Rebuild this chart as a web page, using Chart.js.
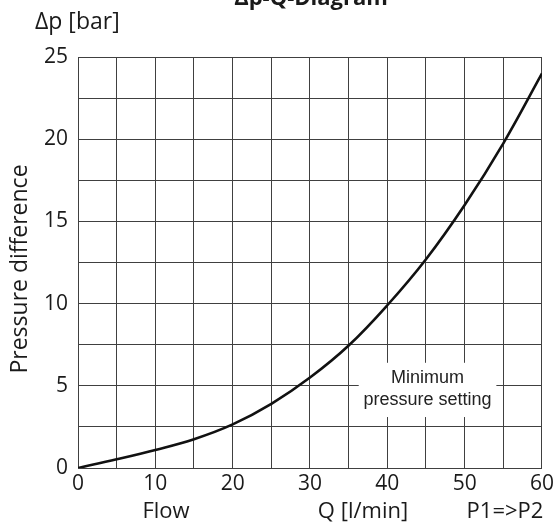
<!DOCTYPE html>
<html>
<head>
<meta charset="utf-8">
<script src="https://cdn.jsdelivr.net/npm/chart.js@4.4.1/dist/chart.umd.min.js"></script>
<style>
  html, body { margin: 0; padding: 0; background: #ffffff; }
  #wrap { position: relative; width: 557px; height: 532px; }
  canvas { display: block; }
</style>
</head>
<body>
<div id="wrap"><canvas id="c" width="557" height="532"></canvas></div>
<script>
// Flow rate Q [l/min] and pressure difference Δp [bar], P1 => P2
const flow = [0, 5, 10, 15, 20, 25, 30, 35, 40, 45, 50, 55, 60];
const pressure = [0, 0.53, 1.1, 1.75, 2.65, 3.9, 5.5, 7.45, 9.9, 12.7, 16.0, 19.75, 24.0];

// Axis ranges and tick labels
const xTickLabels = [0, 10, 20, 30, 40, 50, 60];
const yTickLabels = [0, 5, 10, 15, 20, 25];

// Note box inside the plot, in data units
const noteLines = ['Minimum', 'pressure setting'];
const noteBox = { x0: 36.3, x1: 54.1, y0: 3.1, y1: 6.4 };

const TICK_FONT = '"Open Sans", "Noto Sans", sans-serif';
const GRID = '#404040';

const notePlugin = {
  id: 'notePlugin',
  beforeDatasetsDraw(chart) {
    const { ctx, scales: { x, y } } = chart;
    const l = x.getPixelForValue(noteBox.x0), r = x.getPixelForValue(noteBox.x1);
    const t = y.getPixelForValue(noteBox.y1), b = y.getPixelForValue(noteBox.y0);
    ctx.save();
    ctx.fillStyle = '#ffffff';
    ctx.fillRect(l, t, r - l, b - t);
    ctx.fillStyle = '#222222';
    ctx.font = '18px "Liberation Sans", Arial, sans-serif';
    ctx.textAlign = 'center';
    ctx.textBaseline = 'middle';
    const cx = (l + r) / 2;
    ctx.fillText(noteLines[0], cx, t + 15);
    ctx.fillText(noteLines[1], cx, t + 37);
    ctx.restore();
  }
};

const textPlugin = {
  id: 'textPlugin',
  afterDraw(chart) {
    const { ctx } = chart;
    ctx.save();
    ctx.fillStyle = '#1a1a1a';
    ctx.textBaseline = 'middle';
    ctx.textAlign = 'center';
    ctx.font = 'bold 22px "Open Sans", "Noto Sans", sans-serif';
    ctx.fillText('Δp-Q-Diagram', 311, -1);
    ctx.textAlign = 'left';
    ctx.font = '23px ' + TICK_FONT;
    ctx.fillText('Δp [bar]', 35, 22);
    ctx.font = '22px ' + TICK_FONT;
    ctx.textAlign = 'center';
    ctx.fillText('Flow', 166, 512);
    ctx.fillText('Q [l/min]', 363, 512);
    ctx.fillText('P1=>P2', 505, 512);
    ctx.translate(20, 269);
    ctx.rotate(-Math.PI / 2);
    ctx.font = '23px ' + TICK_FONT;
    ctx.fillText('Pressure difference', 0, 0);
    ctx.restore();
  }
};

new Chart(document.getElementById('c'), {
  type: 'line',
  data: {
    datasets: [{
      data: flow.map((q, i) => ({ x: q, y: pressure[i] })),
      borderColor: '#111111',
      borderWidth: 2.6,
      pointRadius: 0,
      tension: 0.4,
      fill: false
    }]
  },
  options: {
    responsive: false,
    animation: false,
    layout: { padding: { top: 57, right: 14, left: 0, bottom: 0 } },
    plugins: { legend: { display: false }, tooltip: { enabled: false } },
    scales: {
      x: {
        type: 'linear',
        min: 0, max: 60,
        afterFit(s) { s.height = 64; },
        afterBuildTicks(s) { s.ticks = flow.map(v => ({ value: v })); },
        ticks: {
          autoSkip: false,
          maxRotation: 0,
          padding: 3,
          color: '#1a1a1a',
          font: { family: TICK_FONT, size: 21 },
          callback: v => xTickLabels.includes(v) ? String(v) : ''
        },
        grid: { color: GRID, lineWidth: 1, drawTicks: false },
        border: { color: GRID, width: 1 }
      },
      y: {
        type: 'linear',
        min: 0, max: 25,
        afterFit(s) { s.width = 78; },
        afterBuildTicks(s) {
          const t = [];
          for (let v = 0; v <= 25; v += 2.5) t.push({ value: v });
          s.ticks = t;
        },
        ticks: {
          autoSkip: false,
          padding: 10,
          color: '#1a1a1a',
          font: { family: TICK_FONT, size: 21 },
          callback: v => yTickLabels.includes(v) ? String(v) : ''
        },
        grid: { color: GRID, lineWidth: 1, drawTicks: false },
        border: { color: GRID, width: 1 }
      }
    }
  },
  plugins: [notePlugin, textPlugin]
});
</script>
</body>
</html>
